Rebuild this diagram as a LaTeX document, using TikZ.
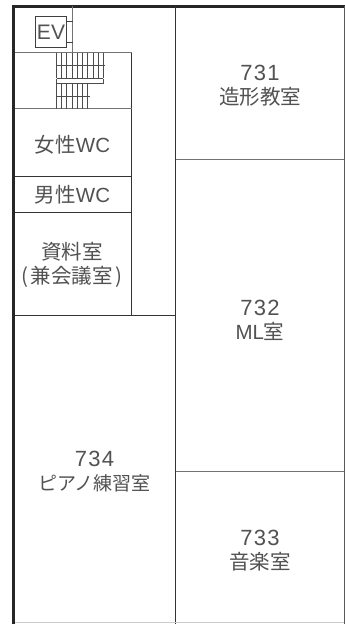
\documentclass[tikz,border=0pt]{standalone}
\usepackage{fontspec}
\setmainfont{Liberation Sans}
\newfontfamily\jpfont{Noto Sans CJK JP}
\newfontfamily\numfont[LetterSpace=6]{Liberation Sans}
\newcommand{\jp}[1]{{\jpfont #1}}
\newcommand{\num}[1]{{\fontsize{22}{24}\selectfont\numfont #1}}
\tikzset{
 wall/.style={line width=1pt,draw=black!80},
 soft wall/.style={line width=1pt,draw=black!55},
 thin wall/.style={line width=0.8pt,draw=black!75},
 tread/.style={line width=0.7pt,draw=black!70},
 lab/.style={align=center,text=black!68,font=\fontsize{20.5}{24}\selectfont,inner sep=0pt},
}
\begin{document}
\begin{tikzpicture}[x=1pt,y=-1pt]
\useasboundingbox (0,0) rectangle (345,624);
\fill[white] (0,0) rectangle (345,624);
% outer walls
\draw[line width=3pt,draw=black!85] (13.3,624) -- (13.3,6) -- (345,6);
\draw[line width=1.2pt,draw=black!65] (344.3,6) -- (344.3,624);
% main walls
\draw[wall] (175.5,6) -- (175.5,624);
\draw[soft wall] (175.5,159.5) -- (344,159.5);
\draw[soft wall] (175.5,471) -- (344,471);
\draw[wall] (15,315.5) -- (175.5,315.5);
\draw[wall] (131.5,52.5) -- (131.5,315.5);
\draw[soft wall] (15,52.5) -- (131.5,52.5);
\draw[soft wall] (15,108.5) -- (131.5,108.5);
\draw[wall] (15,176.5) -- (131.5,176.5);
\draw[wall] (15,212.5) -- (131.5,212.5);
\draw[soft wall] (72.5,6) -- (72.5,52.5);
\draw[line width=0.6pt,draw=black!20] (15,622.5) -- (344,622.5);
% EV box
\draw[thin wall] (35.5,16.5) rectangle (66.5,47);
\draw[thin wall] (66.5,21.5) -- (72.5,21.5);
\draw[thin wall] (66.5,42.5) -- (72.5,42.5);
% stairs
\foreach \x in {56.5,61.5,66.5,72,77,82.5,87.5,93,98,103}
  \draw[tread] (\x,52.5) -- (\x,78);
\draw[tread] (56.5,65.5) -- (105,65.5);
\draw[tread] (56.5,78.5) -- (103,78.5);
\draw[tread] (56.5,83.5) -- (103,83.5);
\draw[tread] (103,78.5) -- (103,83.5);
\draw[tread] (56.5,78.5) -- (56.5,83.5);
\foreach \x in {56.5,61.5,66.5,72,77,82.5,87.5}
  \draw[tread] (\x,83.5) -- (\x,108.5);
\draw[tread] (56.5,96.5) -- (89.5,96.5);
% labels
\node[lab] (ev) at (51,32) {\fontsize{21}{22}\selectfont EV};
\node[lab] (wcf) at (72.5,144.5) {\jp{女性}WC};
\node[lab] (wcm) at (72.5,195) {\jp{男性}WC};
\node[lab] (shiryo) at (72,265) {\jp{資料室}\\\jp{(\hspace{3pt}兼会議室\hspace{3pt})}};
\node[lab] (r731) at (260,86) {\num{731}\\\jp{造形教室}};
\node[lab] (r732) at (260,320) {\num{732}\\ML\jp{室}};
\node[lab] (r733) at (260,550.5) {\num{733}\\\jp{音楽室}};
\node[lab] (r734) at (94.5,471.5) {\num{734}\\{\fontsize{19}{24}\selectfont\jp{ピアノ練習室}}};
\end{tikzpicture}
\end{document}
